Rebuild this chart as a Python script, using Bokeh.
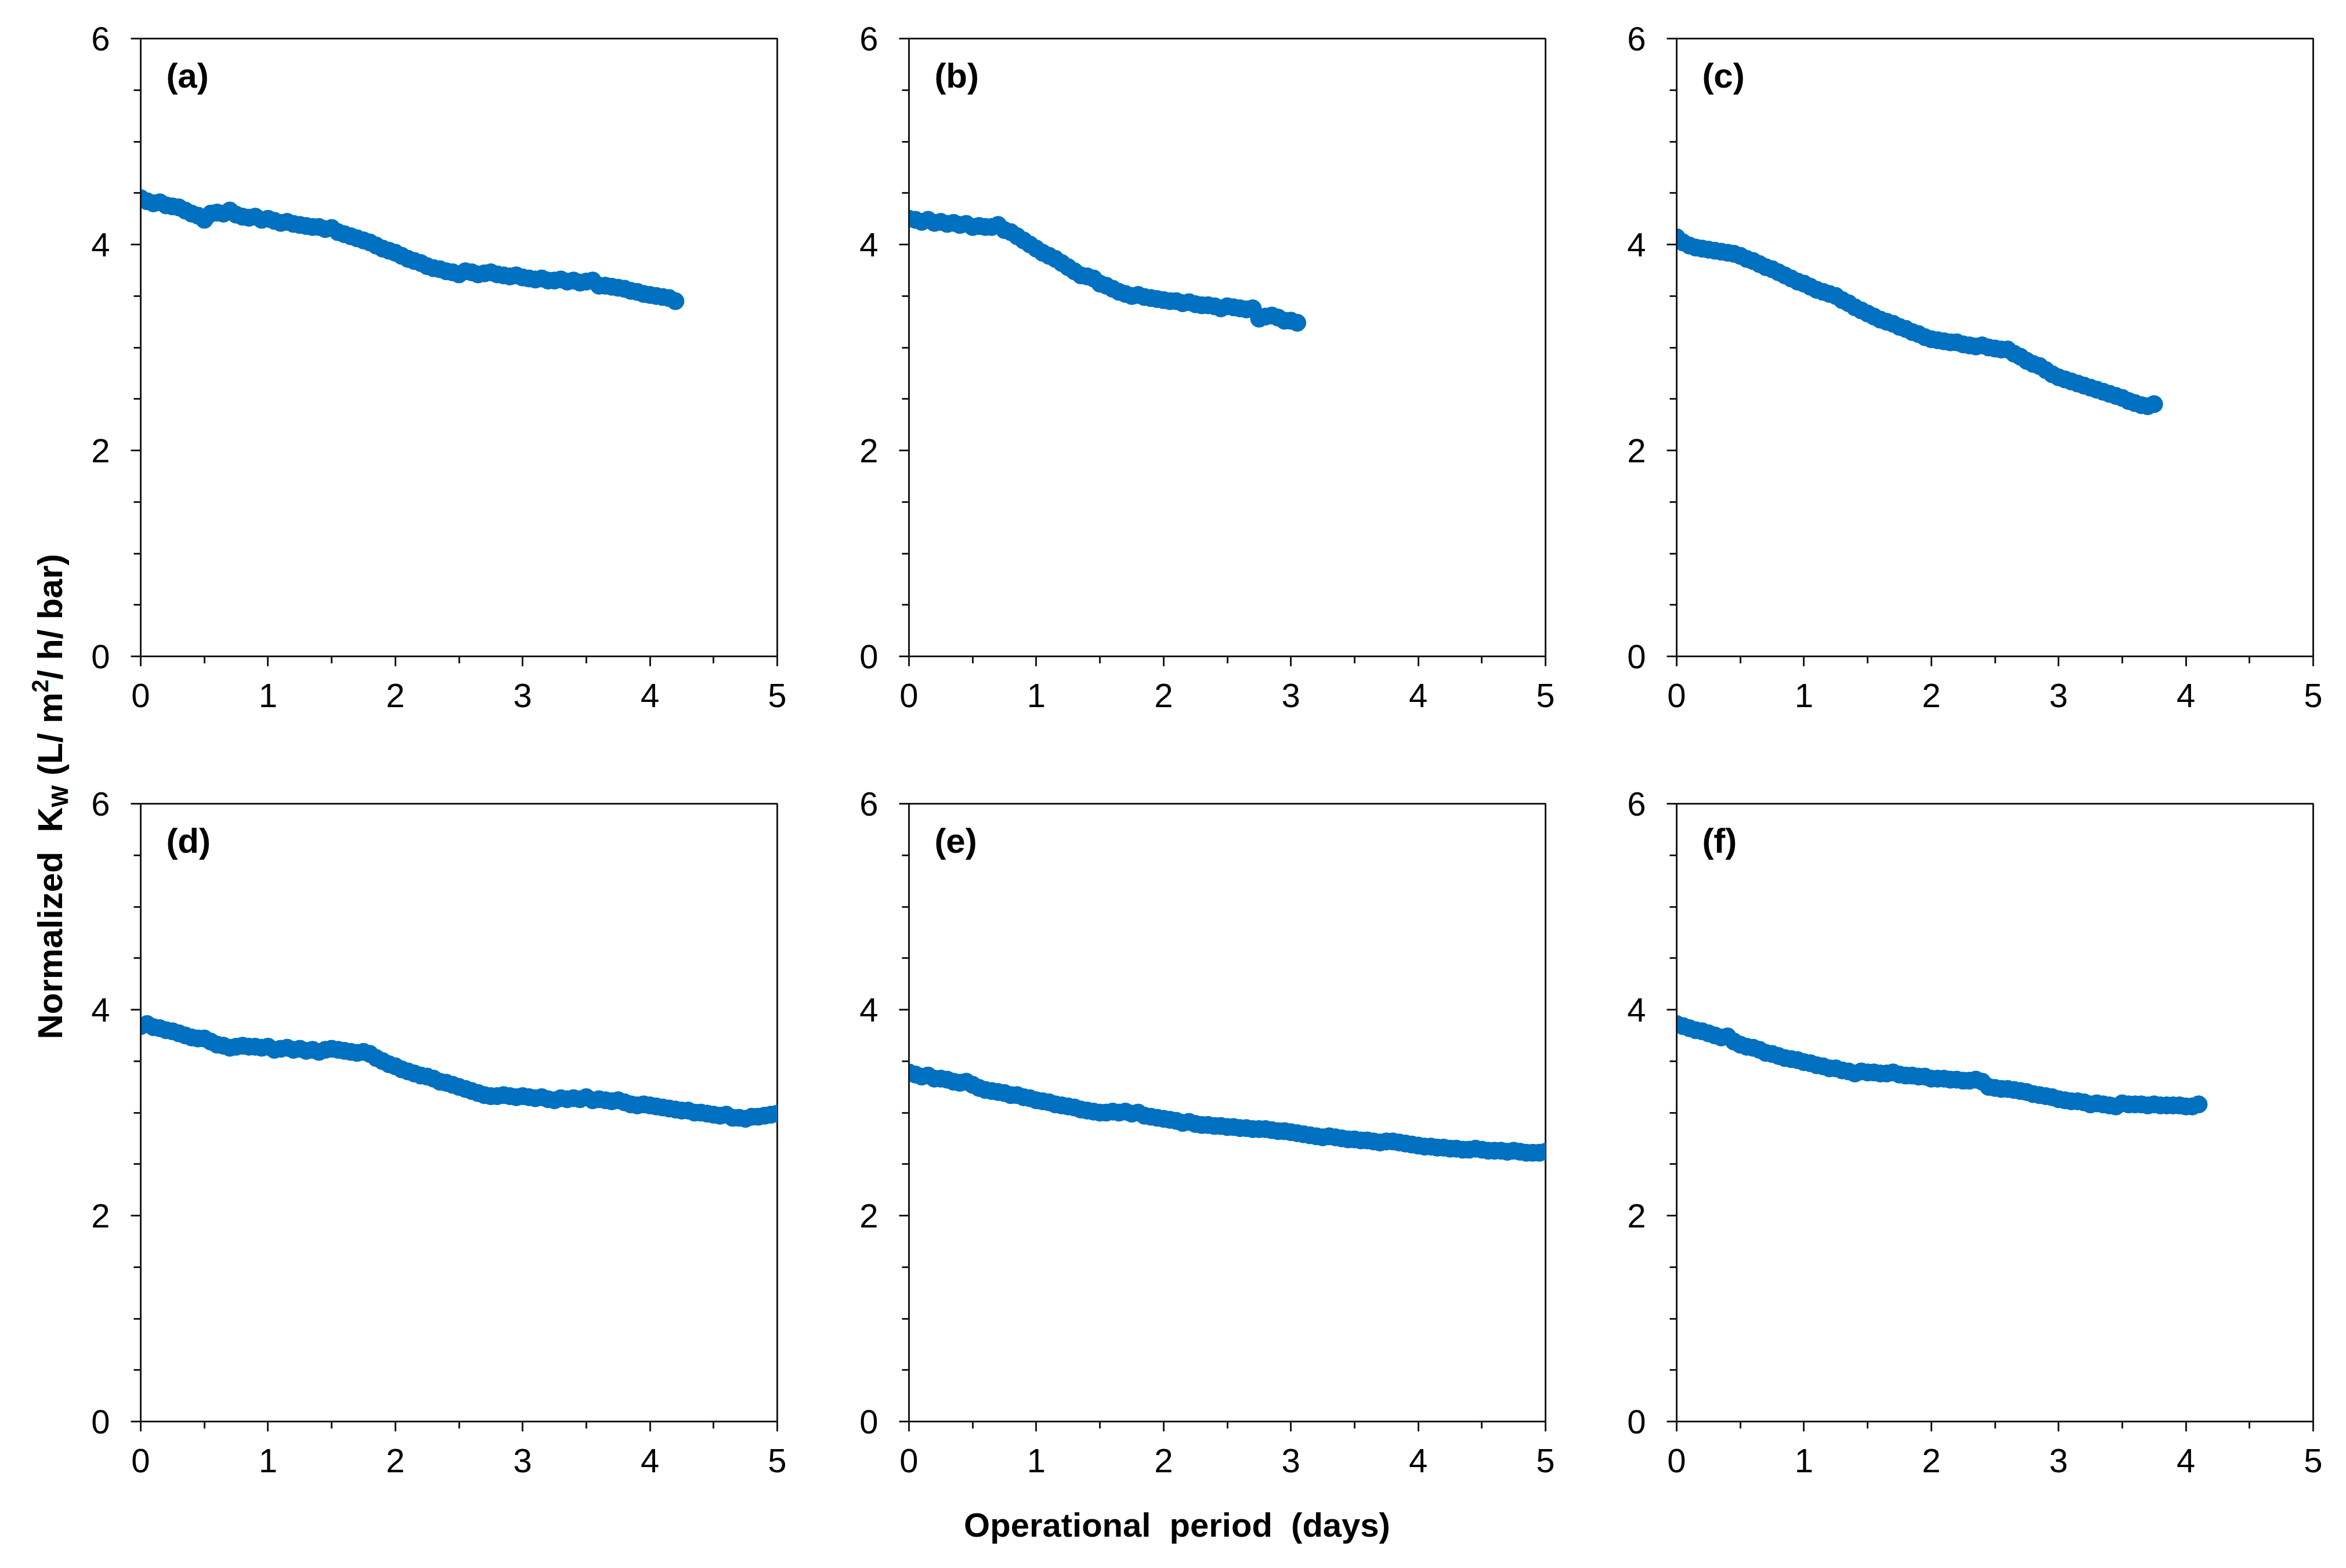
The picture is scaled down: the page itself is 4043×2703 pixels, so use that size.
import math
from bokeh.plotting import figure
from bokeh.models import Range1d, FixedTicker, Label
from bokeh.layouts import row, column
from bokeh.embed import file_html
from bokeh.resources import INLINE

# ---------------- data ----------------
STEP_DAYS = 0.05  # sampling interval of the measurements (days)

kw_a = [4.45, 4.42, 4.40, 4.41, 4.38, 4.37, 4.36, 4.33, 4.30, 4.28, 4.24, 4.30, 4.31, 4.30, 4.33,
        4.29, 4.27, 4.26, 4.27, 4.24, 4.25, 4.23, 4.21, 4.22, 4.20, 4.19, 4.18, 4.17, 4.17, 4.15,
        4.16, 4.12, 4.10, 4.08, 4.06, 4.04, 4.02, 3.99, 3.96, 3.94, 3.92, 3.89, 3.86, 3.84, 3.82,
        3.79, 3.77, 3.76, 3.74, 3.73, 3.71, 3.74, 3.73, 3.71, 3.72, 3.73, 3.71, 3.70, 3.69, 3.70,
        3.68, 3.67, 3.66, 3.67, 3.65, 3.65, 3.66, 3.64, 3.65, 3.63, 3.64, 3.65, 3.60, 3.60, 3.59,
        3.58, 3.57, 3.55, 3.54, 3.52, 3.51, 3.50, 3.49, 3.48, 3.45]

kw_b = [4.25, 4.24, 4.22, 4.24, 4.21, 4.22, 4.20, 4.21, 4.19, 4.20, 4.17, 4.18, 4.17, 4.17, 4.19,
        4.14, 4.12, 4.08, 4.04, 4.00, 3.96, 3.92, 3.89, 3.86, 3.82, 3.78, 3.74, 3.70, 3.69, 3.67,
        3.62, 3.60, 3.57, 3.54, 3.52, 3.50, 3.51, 3.49, 3.48, 3.47, 3.46, 3.45, 3.45, 3.43, 3.44,
        3.42, 3.41, 3.41, 3.40, 3.38, 3.40, 3.39, 3.38, 3.37, 3.38, 3.28, 3.30, 3.31, 3.29, 3.26,
        3.26, 3.24]

kw_c = [4.07, 4.02, 3.99, 3.97, 3.96, 3.95, 3.94, 3.93, 3.92, 3.91, 3.89, 3.86, 3.84, 3.81, 3.78,
        3.76, 3.73, 3.70, 3.67, 3.64, 3.62, 3.59, 3.56, 3.54, 3.52, 3.50, 3.46, 3.43, 3.39, 3.36,
        3.33, 3.30, 3.27, 3.25, 3.23, 3.20, 3.18, 3.15, 3.13, 3.10, 3.08, 3.07, 3.06, 3.05, 3.05,
        3.03, 3.02, 3.01, 3.02, 3.00, 2.99, 2.98, 2.98, 2.94, 2.91, 2.87, 2.84, 2.82, 2.78, 2.74,
        2.71, 2.69, 2.67, 2.65, 2.63, 2.61, 2.59, 2.57, 2.55, 2.53, 2.51, 2.48, 2.46, 2.44, 2.43,
        2.45]

kw_d = [3.84, 3.86, 3.83, 3.82, 3.80, 3.79, 3.77, 3.75, 3.73, 3.72, 3.72, 3.69, 3.66, 3.65, 3.63,
        3.64, 3.65, 3.64, 3.64, 3.63, 3.64, 3.61, 3.62, 3.63, 3.61, 3.62, 3.60, 3.61, 3.59, 3.61,
        3.62, 3.61, 3.60, 3.59, 3.58, 3.59, 3.57, 3.53, 3.50, 3.47, 3.45, 3.42, 3.40, 3.38, 3.36,
        3.35, 3.33, 3.30, 3.29, 3.27, 3.25, 3.23, 3.21, 3.19, 3.17, 3.16, 3.16, 3.17, 3.16, 3.15,
        3.16, 3.15, 3.14, 3.15, 3.13, 3.12, 3.14, 3.13, 3.14, 3.13, 3.15, 3.12, 3.13, 3.12, 3.11,
        3.12, 3.10, 3.08, 3.07, 3.08, 3.07, 3.06, 3.05, 3.04, 3.03, 3.02, 3.02, 3.00, 3.00, 2.99,
        2.98, 2.97, 2.98, 2.95, 2.95, 2.94, 2.96, 2.96, 2.97, 2.98, 2.99]

kw_e = [3.39, 3.37, 3.35, 3.36, 3.33, 3.33, 3.32, 3.30, 3.29, 3.30, 3.27, 3.24, 3.22, 3.21, 3.20,
        3.19, 3.17, 3.17, 3.15, 3.14, 3.12, 3.11, 3.10, 3.08, 3.07, 3.06, 3.05, 3.03, 3.02, 3.01,
        3.00, 3.00, 3.01, 3.00, 3.01, 2.99, 3.00, 2.97, 2.96, 2.95, 2.94, 2.93, 2.92, 2.90, 2.91,
        2.89, 2.88, 2.88, 2.87, 2.87, 2.86, 2.86, 2.85, 2.85, 2.84, 2.84, 2.84, 2.83, 2.82, 2.82,
        2.81, 2.80, 2.79, 2.78, 2.77, 2.76, 2.77, 2.76, 2.75, 2.74, 2.74, 2.73, 2.73, 2.72, 2.71,
        2.72, 2.72, 2.71, 2.70, 2.69, 2.68, 2.67, 2.67, 2.66, 2.66, 2.65, 2.65, 2.64, 2.64, 2.65,
        2.64, 2.63, 2.63, 2.63, 2.62, 2.63, 2.62, 2.61, 2.61, 2.61, 2.62]

kw_f = [3.86, 3.84, 3.82, 3.80, 3.79, 3.77, 3.75, 3.73, 3.74, 3.69, 3.66, 3.64, 3.63, 3.61, 3.58,
        3.57, 3.55, 3.53, 3.52, 3.51, 3.49, 3.48, 3.46, 3.45, 3.43, 3.43, 3.41, 3.40, 3.38, 3.40,
        3.39, 3.39, 3.38, 3.38, 3.39, 3.37, 3.36, 3.36, 3.35, 3.35, 3.33, 3.33, 3.33, 3.32, 3.32,
        3.31, 3.31, 3.32, 3.30, 3.25, 3.24, 3.23, 3.23, 3.22, 3.21, 3.20, 3.18, 3.17, 3.16, 3.15,
        3.13, 3.12, 3.11, 3.11, 3.10, 3.08, 3.09, 3.08, 3.07, 3.06, 3.09, 3.08, 3.08, 3.08, 3.07,
        3.08, 3.07, 3.07, 3.07, 3.07, 3.06, 3.06, 3.08]

panel_labels = ["(a)", "(b)", "(c)", "(d)", "(e)", "(f)"]
series = [kw_a, kw_b, kw_c, kw_d, kw_e, kw_f]

y_major = [0, 2, 4, 6]
y_minor = [0.5, 1, 1.5, 2.5, 3, 3.5, 4.5, 5, 5.5]
x_major = [0, 1, 2, 3, 4, 5]
x_minor = [0.5, 1.5, 2.5, 3.5, 4.5]

NB = "\u00a0"
x_title = f"Operational{NB} period{NB} (days)"
y_title_parts = [f"Normalized{NB} K", "W", f"{NB}(L/{NB}m", "2", f"/{NB}h/{NB}bar)"]

# ---------------- style ----------------
FONT = "Liberation Sans"
BLUE = "#0070C0"
INK = "#1a1a1a"
FRAME_W, FRAME_H = 1097, 1065
LEFT_TITLE_W = 128
XTITLE_H = 110


def make_panel(vals, label, b_left, b_top, b_bottom, b_right=40):
    days = [round(i * STEP_DAYS, 2) for i in range(len(vals))]
    p = figure(width=b_left + FRAME_W + b_right, height=b_top + FRAME_H + b_bottom,
               x_range=Range1d(0, 5), y_range=Range1d(0, 6),
               output_backend="svg", toolbar_location=None,
               min_border_left=b_left, min_border_right=b_right,
               min_border_top=b_top, min_border_bottom=b_bottom)
    p.xgrid.visible = False
    p.ygrid.visible = False
    p.outline_line_color = INK
    p.outline_line_width = 3
    p.background_fill_color = "white"
    p.border_fill_color = "white"

    p.xaxis.ticker = FixedTicker(ticks=x_major, minor_ticks=x_minor)
    p.yaxis.ticker = FixedTicker(ticks=y_major, minor_ticks=y_minor)
    for ax in (p.xaxis[0], p.yaxis[0]):
        ax.axis_line_color = INK
        ax.axis_line_width = 3
        ax.major_tick_line_color = INK
        ax.major_tick_line_width = 3
        ax.minor_tick_line_color = INK
        ax.minor_tick_line_width = 3
        ax.major_tick_in = 0
        ax.major_tick_out = 17
        ax.minor_tick_in = 0
        ax.minor_tick_out = 12
        ax.major_label_text_font = FONT
        ax.major_label_text_font_size = "58px"
        ax.major_label_text_color = "black"
    p.yaxis.major_label_standoff = 36
    p.xaxis.major_label_standoff = 30

    p.scatter(days, vals, size=30, marker="circle",
              fill_color=BLUE, line_color=BLUE, line_width=1)

    p.add_layout(Label(x=0.2, y=5.83, text=label, text_font=FONT,
                       text_font_size="60px", text_font_style="bold",
                       text_baseline="top", text_align="left", text_color="black"))
    return p


row1 = [make_panel(series[0], panel_labels[0], 114, 66, 128),
        make_panel(series[1], panel_labels[1], 187, 66, 128),
        make_panel(series[2], panel_labels[2], 186, 66, 128)]
row2 = [make_panel(series[3], panel_labels[3], 114, 126, 123),
        make_panel(series[4], panel_labels[4], 187, 126, 123),
        make_panel(series[5], panel_labels[5], 186, 126, 123)]

grid_w = sum(f.width for f in row1)
total_h = row1[0].height + row2[0].height + XTITLE_H


def blank_fig(w, h):
    f = figure(width=w, height=h, x_range=Range1d(0, w), y_range=Range1d(0, h),
               output_backend="svg", toolbar_location=None,
               min_border=0, min_border_left=0, min_border_right=0,
               min_border_top=0, min_border_bottom=0)
    f.axis.visible = False
    f.grid.visible = False
    f.outline_line_color = None
    return f


# x title
xt = blank_fig(grid_w, XTITLE_H)
xt.add_layout(Label(x=1900, y=55, text=x_title, text_font=FONT, text_font_size="58px",
                    text_font_style="bold", text_align="center", text_baseline="middle",
                    text_color="black"))

# y title, built from pieces (subscript W, superscript 2)
yt = blank_fig(LEFT_TITLE_W, total_h)
adv = {"N": 722, "o": 611, "r": 389, "m": 889, "a": 556, "l": 278, "i": 278, "z": 500,
       "e": 556, "d": 611, " ": 278, NB: 278, "K": 722, "W": 944, "(": 333, "L": 611,
       "/": 278, "2": 556, "h": 611, "b": 611, ")": 333}
sizes = [60, 40, 60, 40, 60]
baselines = [107, 116, 107, 82, 107]   # x position of each piece's baseline
pos = 892
for txt, fs, bx in zip(y_title_parts, sizes, baselines):
    mid = 0.35 * fs   # distance from baseline to the middle of the em box
    yt.add_layout(Label(x=bx - mid, y=pos, text=txt, angle=math.pi / 2,
                        text_font=FONT, text_font_size=f"{fs}px", text_font_style="bold",
                        text_align="left", text_baseline="middle", text_color="black"))
    pos += sum(adv.get(c, 556) for c in txt) * fs / 1000.0

layout = row(yt, column(row(*row1), row(*row2), xt))

open("out.html", "w").write(file_html(layout, INLINE))
